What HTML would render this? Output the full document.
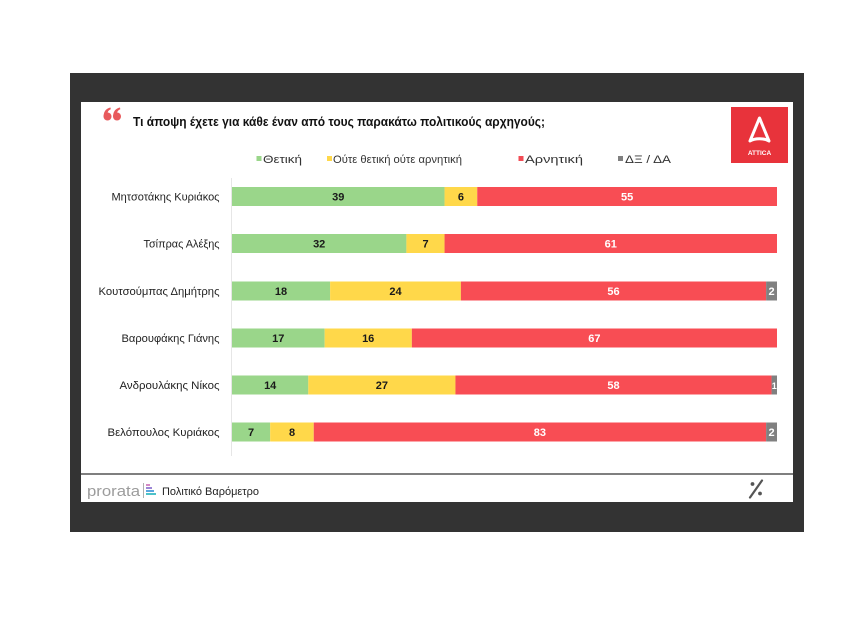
<!DOCTYPE html>
<html><head><meta charset="utf-8">
<style>
html,body{margin:0;padding:0;background:#fff;}
svg{display:block;}
text{font-family:"Liberation Sans","DejaVu Sans",sans-serif;}
</style></head>
<body>
<svg width="868" height="619" viewBox="0 0 868 619" xmlns="http://www.w3.org/2000/svg">
  <rect x="0" y="0" width="868" height="619" fill="#ffffff"/>
  <!-- dark frame -->
  <rect x="70" y="73" width="734" height="459" fill="#333333"/>
  <!-- white panel -->
  <rect x="81" y="102" width="712" height="400" fill="#ffffff"/>

  <!-- quote mark -->
  <g fill="#e85a5c">
    <circle cx="107.5" cy="116.5" r="4"/>
    <path d="M103.6,116 C103.8,111 106.5,108.3 110.5,107.5 L110.8,109.3 C108.5,110.2 107.4,112 107.3,114.5 Z"/>
    <circle cx="117" cy="116.5" r="4"/>
    <path d="M113.1,116 C113.3,111 116,108.3 120,107.5 L120.3,109.3 C118,110.2 116.9,112 116.8,114.5 Z"/>
  </g>
  <!-- title -->
  <text x="133" y="126" font-size="12.5" font-weight="bold" fill="#111" textLength="412" lengthAdjust="spacingAndGlyphs">Τι άποψη έχετε για κάθε έναν από τους παρακάτω πολιτικούς αρχηγούς;</text>

  <!-- logo -->
  <rect x="731" y="107" width="57" height="56" fill="#e8333b"/>
  <path d="M759.5,118 L750,141 C755,138 764,138 769,141 Z" fill="none" stroke="#ffffff" stroke-width="3" stroke-linejoin="round"/>
  <text x="759.5" y="155" font-size="6.5" font-weight="bold" fill="#ffffff" text-anchor="middle">ATTICA</text>

  <!-- legend -->
  <g font-size="11" fill="#333">
    <rect x="256.5" y="156" width="5" height="5" fill="#9ad68a"/>
    <text x="263" y="163" textLength="39" lengthAdjust="spacingAndGlyphs">Θετική</text>
    <rect x="327" y="156" width="5" height="5" fill="#ffd84a"/>
    <text x="333" y="163" textLength="129" lengthAdjust="spacingAndGlyphs">Ούτε θετική ούτε αρνητική</text>
    <rect x="518.5" y="156" width="5" height="5" fill="#f24c55"/>
    <text x="525" y="163" textLength="58" lengthAdjust="spacingAndGlyphs">Αρνητική</text>
    <rect x="618" y="156" width="5" height="5" fill="#808080"/>
    <text x="625" y="163" textLength="46" lengthAdjust="spacingAndGlyphs">ΔΞ / ΔΑ</text>
  </g>

  <!-- axis line -->
  <line x1="231.5" y1="178" x2="231.5" y2="456" stroke="#e6e6e6" stroke-width="1"/>

  <!-- category labels -->
  <g font-size="11" fill="#222" text-anchor="end">
    <text x="219.5" y="200.5" textLength="108" lengthAdjust="spacingAndGlyphs">Μητσοτάκης Κυριάκος</text>
    <text x="219.5" y="247.5" textLength="76" lengthAdjust="spacingAndGlyphs">Τσίπρας Αλέξης</text>
    <text x="219.5" y="295" textLength="121" lengthAdjust="spacingAndGlyphs">Κουτσούμπας Δημήτρης</text>
    <text x="219.5" y="342" textLength="98" lengthAdjust="spacingAndGlyphs">Βαρουφάκης Γιάνης</text>
    <text x="219.5" y="389" textLength="100" lengthAdjust="spacingAndGlyphs">Ανδρουλάκης Νίκος</text>
    <text x="219.5" y="436" textLength="112" lengthAdjust="spacingAndGlyphs">Βελόπουλος Κυριάκος</text>
  </g>

  <!-- bars: x0=232, scale 5.45 px/unit -->
  <g font-size="11" font-weight="bold" text-anchor="middle">
    <!-- row 1: 39 6 55 -->
    <rect x="232" y="187" width="212.55" height="19" fill="#9ad68a"/>
    <rect x="444.55" y="187" width="32.7" height="19" fill="#ffd84a"/>
    <rect x="477.25" y="187" width="299.75" height="19" fill="#f84d54"/>
    <text x="338.3" y="200.5" fill="#1a1a1a">39</text>
    <text x="460.9" y="200.5" fill="#1a1a1a">6</text>
    <text x="627.1" y="200.5" fill="#fff">55</text>

    <!-- row 2: 32 7 61 -->
    <rect x="232" y="234" width="174.4" height="19" fill="#9ad68a"/>
    <rect x="406.4" y="234" width="38.15" height="19" fill="#ffd84a"/>
    <rect x="444.55" y="234" width="332.45" height="19" fill="#f84d54"/>
    <text x="319.2" y="247.5" fill="#1a1a1a">32</text>
    <text x="425.5" y="247.5" fill="#1a1a1a">7</text>
    <text x="610.8" y="247.5" fill="#fff">61</text>

    <!-- row 3: 18 24 56 2 -->
    <rect x="232" y="281.5" width="98.1" height="19" fill="#9ad68a"/>
    <rect x="330.1" y="281.5" width="130.8" height="19" fill="#ffd84a"/>
    <rect x="460.9" y="281.5" width="305.2" height="19" fill="#f84d54"/>
    <rect x="766.1" y="281.5" width="10.9" height="19" fill="#808080"/>
    <text x="281" y="295" fill="#1a1a1a">18</text>
    <text x="395.5" y="295" fill="#1a1a1a">24</text>
    <text x="613.5" y="295" fill="#fff">56</text>
    <text x="771.5" y="295" fill="#fff">2</text>

    <!-- row 4: 17 16 67 -->
    <rect x="232" y="328.5" width="92.65" height="19" fill="#9ad68a"/>
    <rect x="324.65" y="328.5" width="87.2" height="19" fill="#ffd84a"/>
    <rect x="411.85" y="328.5" width="365.15" height="19" fill="#f84d54"/>
    <text x="278.3" y="342" fill="#1a1a1a">17</text>
    <text x="368.2" y="342" fill="#1a1a1a">16</text>
    <text x="594.4" y="342" fill="#fff">67</text>

    <!-- row 5: 14 27 58 1 -->
    <rect x="232" y="375.5" width="76.3" height="19" fill="#9ad68a"/>
    <rect x="308.3" y="375.5" width="147.15" height="19" fill="#ffd84a"/>
    <rect x="455.45" y="375.5" width="316.1" height="19" fill="#f84d54"/>
    <rect x="771.55" y="375.5" width="5.45" height="19" fill="#808080"/>
    <text x="270.2" y="389" fill="#1a1a1a">14</text>
    <text x="381.9" y="389" fill="#1a1a1a">27</text>
    <text x="613.5" y="389" fill="#fff">58</text>
    <text x="774.3" y="389" fill="#fff" font-size="9">1</text>

    <!-- row 6: 7 8 83 2 -->
    <rect x="232" y="422.5" width="38.15" height="19" fill="#9ad68a"/>
    <rect x="270.15" y="422.5" width="43.6" height="19" fill="#ffd84a"/>
    <rect x="313.75" y="422.5" width="452.35" height="19" fill="#f84d54"/>
    <rect x="766.1" y="422.5" width="10.9" height="19" fill="#808080"/>
    <text x="251.1" y="436" fill="#1a1a1a">7</text>
    <text x="292" y="436" fill="#1a1a1a">8</text>
    <text x="539.9" y="436" fill="#fff">83</text>
    <text x="771.5" y="436" fill="#fff">2</text>
  </g>

  <!-- footer line -->
  <line x1="81" y1="474" x2="793" y2="474" stroke="#333" stroke-width="1.2"/>

  <!-- footer -->
  <text x="87" y="496" font-size="15" fill="#9c9c9c" textLength="53" lengthAdjust="spacingAndGlyphs">prorata</text>
  <line x1="143.5" y1="483" x2="143.5" y2="498" stroke="#b0b0b0" stroke-width="1"/>
  <rect x="146" y="484" width="4" height="2" fill="#d58ac4"/>
  <rect x="146" y="487" width="6" height="2" fill="#9b86d6"/>
  <rect x="146" y="490" width="8" height="2" fill="#5aa7df"/>
  <rect x="146" y="493" width="10" height="2" fill="#4cc2c9"/>
  <text x="162" y="495" font-size="11" fill="#222" textLength="97" lengthAdjust="spacingAndGlyphs">Πολιτικό Βαρόμετρο</text>

  <!-- percent icon -->
  <line x1="750" y1="497.5" x2="762" y2="480.5" stroke="#555" stroke-width="2.2" stroke-linecap="round"/>
  <circle cx="752.5" cy="484" r="1.9" fill="#555"/>
  <circle cx="760" cy="493.5" r="1.9" fill="#555"/>
</svg>
</body></html>
